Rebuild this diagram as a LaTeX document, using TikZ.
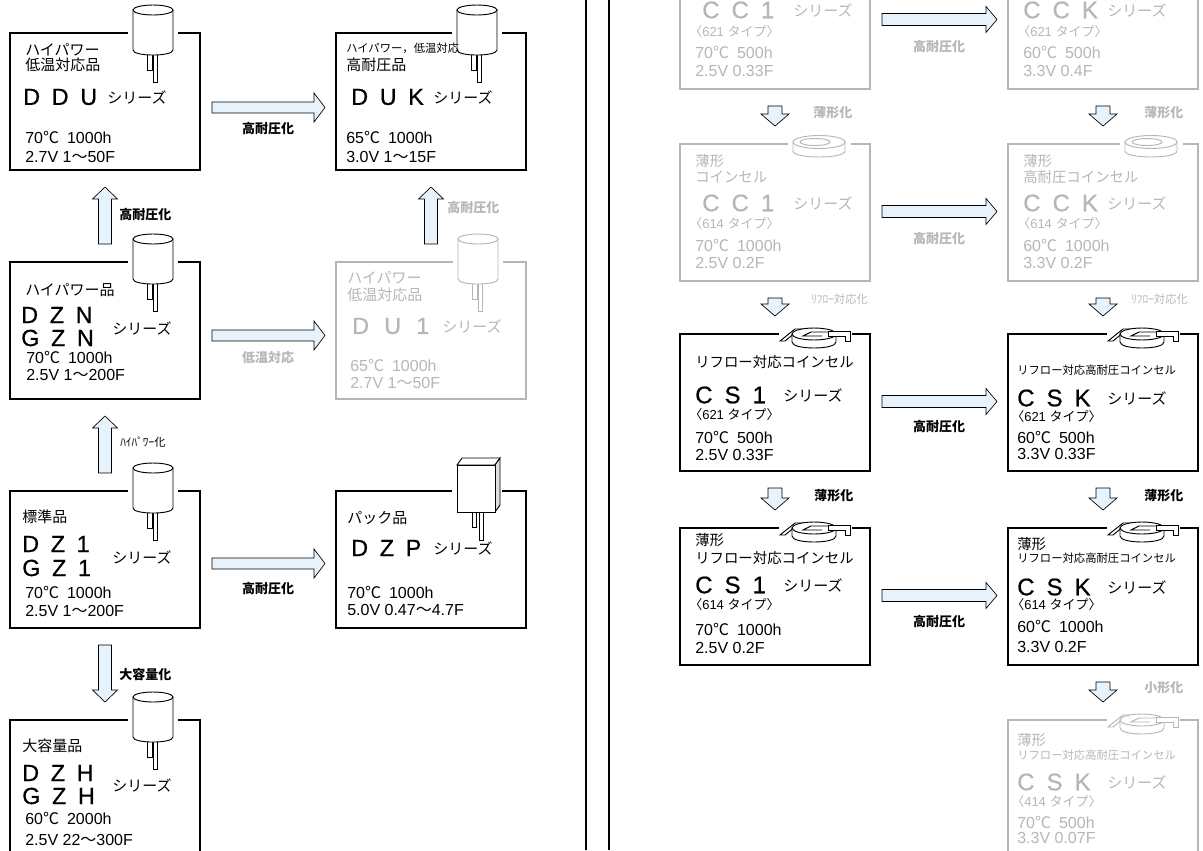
\documentclass[tikz,border=0pt]{standalone}
\usepackage{fontspec}
\setmainfont{Liberation Sans}
\newfontfamily\jp{Noto Sans CJK JP}
\newfontfamily\heavysf[FakeBold=0.7]{Liberation Sans}
\usetikzlibrary{calc}
\definecolor{faded}{RGB}{182,182,182}
\definecolor{arrowblue}{RGB}{230,243,253}
\tikzset{
  panel/.style={draw=black, line width=1.5pt, minimum width=142.5pt, minimum height=102.75pt, inner sep=0pt, anchor=north west},
  panel-faded/.style={panel, draw=faded},
  line-jp/.style={anchor=west, inner sep=0pt, font=\jp\fontsize{11.25pt}{13pt}\selectfont},
  line-jp-r/.style={line-jp, font=\jp\fontsize{10.8pt}{12pt}\selectfont},
  line-jp-small/.style={line-jp, font=\jp\fontsize{8.5pt}{10pt}\selectfont},
  line-big/.style={anchor=west, inner sep=0pt, font=\heavysf\fontsize{17.5pt}{20pt}\selectfont},
  line-big-r/.style={line-big, font=\heavysf\fontsize{18pt}{20pt}\selectfont},
  line-num/.style={anchor=west, inner sep=0pt, font=\fontsize{12pt}{14pt}\selectfont},
  line-type/.style={anchor=west, inner sep=0pt, font=\fontsize{9.75pt}{11pt}\selectfont},
  arrow-label/.style={inner sep=0pt, font=\jp\bfseries\fontsize{9.75pt}{11pt}\selectfont},
  arrow-label-half/.style={arrow-label, font=\jp\fontsize{8.5pt}{10pt}\selectfont},
  faded-text/.style={every node/.append style={text=faded}},
  fatarrow/.style={draw=black, line width=0.5pt, fill=arrowblue, line join=miter}
}
\newcommand{\degC}{{\jp ℃}}
\newcommand{\tld}{{\jp ～}}
\newcommand{\trio}[4][0.5em]{#2\hspace{#1}#3\hspace{#1}#4}
% radial capacitor sitting in the top edge of a panel
\newcommand{\canicon}[2]{%
  \begin{scope}[shift={(#1)}, color=#2, line width=0.7pt]
    \fill[white] (-25,-4) rectangle (25,4);
    \filldraw[fill=white] (-6,20) rectangle (-1,38);
    \filldraw[fill=white] (0,20) rectangle (4,50);
    \filldraw[fill=white] (-20,-22) -- (-20,18) .. controls (-20,24.7) and (20,24.7) .. (20,18) -- (20,-22) -- cycle;
    \filldraw[fill=white] (0,-22) ellipse [x radius=20, y radius=5];
  \end{scope}}
% pack module
\newcommand{\packicon}[1]{%
  \begin{scope}[shift={(#1)}, line width=0.7pt]
    \fill[white] (-24,-4) rectangle (26,4);
    \filldraw[fill=white] (-4,20) rectangle (0,37);
    \filldraw[fill=white] (3,20) rectangle (7,50);
    \filldraw[fill=white] (-19,-25) -- (-14,-32) -- (24,-32) -- (19,-25) -- cycle;
    \filldraw[fill=gray!25] (19,-25) -- (24,-32) -- (24,15) -- (19,22) -- cycle;
    \filldraw[fill=white] (-19,-25) rectangle (19,22);
  \end{scope}}
% flat coin cell
\newcommand{\coinicon}[2]{%
  \begin{scope}[shift={(#1)}, color=#2, line width=0.7pt]
    \fill[white] (-31,-4) rectangle (32,4);
    \filldraw[fill=white] (-26,-1) -- (-26,8) .. controls (-26,16) and (26,16) .. (26,8) -- (26,-1) -- cycle;
    \filldraw[fill=white] (0,-1) ellipse [x radius=26, y radius=6.5];
    \draw (-4,-1) ellipse [x radius=15, y radius=3.5];
  \end{scope}}
% coin cell with reflow tabs
\newcommand{\reflowicon}[2]{%
  \begin{scope}[shift={(#1)}, color=#2, line width=0.7pt]
    \fill[white] (-35,-4) rectangle (38,4);
    \filldraw[fill=white] (-34,8) -- (-19,-4) -- (-9,-4) -- (-11,-1) -- (-18,-1) -- (-29,8) -- cycle;
    \filldraw[fill=white] (-22,1) -- (-22,9) .. controls (-22,17) and (22,17) .. (22,9) -- (22,1) -- cycle;
    \filldraw[fill=white] (0,1) ellipse [x radius=22, y radius=6];
    \draw (16,-1) -- (-3,-1) -- (-11,3) -- (8,3);
    \filldraw[fill=white] (14,-2) -- (36,-2) -- (36,8) -- (31,8) -- (31,3) -- (14,3) -- cycle;
  \end{scope}}
% block arrows between panels
\newcommand{\fatright}[5]{%
  \draw[fatarrow] ($(#1.east)+(11,#3-#4)$) -- ($(#2.west)+(-21,#3-#4)$)
    -- ($(#2.west)+(-21,#3-#5)$) -- ($(#2.west)+(-10,#3)$)
    -- ($(#2.west)+(-21,#3+#5)$) -- ($(#2.west)+(-21,#3+#4)$)
    -- ($(#1.east)+(11,#3+#4)$) -- cycle;}
\newcommand{\fatup}[5]{%
  \draw[fatarrow] ($(#1.north)+(-#3,-17)$) -- ($(#2.south)+(-#3,16+#5)$)
    -- ($(#2.south)+(-#4,16+#5)$) -- ($(#2.south)+(0,16)$)
    -- ($(#2.south)+(#4,16+#5)$) -- ($(#2.south)+(#3,16+#5)$)
    -- ($(#1.north)+(#3,-17)$) -- cycle;}
\newcommand{\fatdown}[5]{%
  \draw[fatarrow] ($(#1.south)+(-#3,16)$) -- ($(#2.north)+(-#3,-17-#5)$)
    -- ($(#2.north)+(-#4,-17-#5)$) -- ($(#2.north)+(0,-17)$)
    -- ($(#2.north)+(#4,-17-#5)$) -- ($(#2.north)+(#3,-17-#5)$)
    -- ($(#1.south)+(#3,16)$) -- cycle;}

\begin{document}
\begin{tikzpicture}[x=0.75pt, y=-0.75pt]
  \useasboundingbox (0,0) rectangle (1203,850);
  \clip (0,0) rectangle (1203,850);

  % dividers
  \draw[line width=1.5pt] (586,0) -- (586,850);
  \draw[line width=1.5pt] (609,0) -- (609,850);

  % ===== left half: radial types =====
  % DDU
  \node[panel] (ddu) at (9,32) {};
  \coordinate (ddu-icon) at ($(ddu.north west)+(144,0)$);
  \canicon{ddu-icon}{black}
  \node[line-jp] (ddu-t1) at ($(ddu.north west)+(16,18)$) {ハイパワー};
  \node[line-jp] (ddu-t2) at ($(ddu.north west)+(16,33)$) {低温対応品};
  \node[line-big] (ddu-nm) at ($(ddu.north west)+(14,65)$) {\trio{D}{D}{U}};
  \node[line-jp] (ddu-sr) at ($(ddu.north west)+(98,65)$) {シリーズ};
  \node[line-num] (ddu-s1) at ($(ddu.north west)+(16,105)$) {70\degC\hspace{0.5em}1000h};
  \node[line-num] (ddu-s2) at ($(ddu.north west)+(16,125)$) {2.7V 1\tld 50F};

  % DUK
  \node[panel] (duk) at (335,32) {};
  \coordinate (duk-icon) at ($(duk.north west)+(142,0)$);
  \canicon{duk-icon}{black}
  \node[line-jp-small] (duk-t1) at ($(duk.north west)+(11,16)$) {ハイパワー，低温対応};
  \node[line-jp] (duk-t2) at ($(duk.north west)+(11,33)$) {高耐圧品};
  \node[line-big] (duk-nm) at ($(duk.north west)+(16,65)$) {\trio{D}{U}{K}};
  \node[line-jp] (duk-sr) at ($(duk.north west)+(98,65)$) {シリーズ};
  \node[line-num] (duk-s1) at ($(duk.north west)+(11,105)$) {65\degC\hspace{0.5em}1000h};
  \node[line-num] (duk-s2) at ($(duk.north west)+(11,125)$) {3.0V 1\tld 15F};

  % DZN / GZN
  \node[panel] (dzn) at (9,261) {};
  \coordinate (dzn-icon) at ($(dzn.north west)+(144,0)$);
  \canicon{dzn-icon}{black}
  \node[line-jp] (dzn-t1) at ($(dzn.north west)+(16,29)$) {ハイパワー品};
  \node[line-big] (dzn-n1) at ($(dzn.north west)+(12,54)$) {\trio{D}{Z}{N}};
  \node[line-big] (dzn-n2) at ($(dzn.north west)+(12,77)$) {\trio{G}{Z}{N}};
  \node[line-jp] (dzn-sr) at ($(dzn.north west)+(103,67)$) {シリーズ};
  \node[line-num] (dzn-s1) at ($(dzn.north west)+(17,96)$) {70\degC\hspace{0.5em}1000h};
  \node[line-num] (dzn-s2) at ($(dzn.north west)+(17,114)$) {2.5V 1\tld 200F};

  % DU1 (faded)
  \node[panel-faded] (du1) at (335,261) {};
  \coordinate (du1-icon) at ($(du1.north west)+(143,0)$);
  \canicon{du1-icon}{faded}
  \begin{scope}[faded-text]
    \node[line-jp] (du1-t1) at ($(du1.north west)+(12,17)$) {ハイパワー};
    \node[line-jp] (du1-t2) at ($(du1.north west)+(12,34)$) {低温対応品};
    \node[line-big] (du1-nm) at ($(du1.north west)+(17,65)$) {\trio[0.65em]{D}{U}{1}};
    \node[line-jp] (du1-sr) at ($(du1.north west)+(107,65)$) {シリーズ};
    \node[line-num] (du1-s1) at ($(du1.north west)+(15,104)$) {65\degC\hspace{0.5em}1000h};
    \node[line-num] (du1-s2) at ($(du1.north west)+(15,122)$) {2.7V 1\tld 50F};
  \end{scope}

  % DZ1 / GZ1
  \node[panel] (dz1) at (9,490) {};
  \coordinate (dz1-icon) at ($(dz1.north west)+(144,0)$);
  \canicon{dz1-icon}{black}
  \node[line-jp] (dz1-t1) at ($(dz1.north west)+(13,27)$) {標準品};
  \node[line-big] (dz1-n1) at ($(dz1.north west)+(13,54)$) {\trio{D}{Z}{1}};
  \node[line-big] (dz1-n2) at ($(dz1.north west)+(13,78)$) {\trio{G}{Z}{1}};
  \node[line-jp] (dz1-sr) at ($(dz1.north west)+(103,67)$) {シリーズ};
  \node[line-num] (dz1-s1) at ($(dz1.north west)+(16,102)$) {70\degC\hspace{0.5em}1000h};
  \node[line-num] (dz1-s2) at ($(dz1.north west)+(16,121)$) {2.5V 1\tld 200F};

  % DZP
  \node[panel] (dzp) at (335,490) {};
  \coordinate (dzp-icon) at ($(dzp.north west)+(141,0)$);
  \packicon{dzp-icon}
  \node[line-jp] (dzp-t1) at ($(dzp.north west)+(12,28)$) {パック品};
  \node[line-big] (dzp-nm) at ($(dzp.north west)+(16,58)$) {\trio{D}{Z}{P}};
  \node[line-jp] (dzp-sr) at ($(dzp.north west)+(98,58)$) {シリーズ};
  \node[line-num] (dzp-s1) at ($(dzp.north west)+(12,102)$) {70\degC\hspace{0.5em}1000h};
  \node[line-num] (dzp-s2) at ($(dzp.north west)+(12,120)$) {5.0V 0.47\tld 4.7F};

  % DZH / GZH
  \node[panel] (dzh) at (9,719) {};
  \coordinate (dzh-icon) at ($(dzh.north west)+(144,0)$);
  \canicon{dzh-icon}{black}
  \node[line-jp] (dzh-t1) at ($(dzh.north west)+(13,27)$) {大容量品};
  \node[line-big] (dzh-n1) at ($(dzh.north west)+(13,54)$) {\trio{D}{Z}{H}};
  \node[line-big] (dzh-n2) at ($(dzh.north west)+(13,77)$) {\trio{G}{Z}{H}};
  \node[line-jp] (dzh-sr) at ($(dzh.north west)+(103,66)$) {シリーズ};
  \node[line-num] (dzh-s1) at ($(dzh.north west)+(16,99)$) {60\degC\hspace{0.5em}2000h};
  \node[line-num] (dzh-s2) at ($(dzh.north west)+(16,121)$) {2.5V 22\tld 300F};

  % arrows, left half
  \fatright{ddu}{duk}{6}{5.5}{14.5}
  \fatright{dzn}{du1}{5}{5.5}{14.5}
  \fatright{dz1}{dzp}{4}{5.5}{14.5}
  \fatup{dzn}{ddu}{6.5}{12.5}{12}
  \fatup{du1}{duk}{6.5}{12.5}{12}
  \fatup{dz1}{dzn}{6.5}{12.5}{12}
  \fatdown{dz1}{dzh}{6.5}{12.5}{12}
  \node[arrow-label] (lb-ddu-duk) at ($(ddu.east)!0.5!(duk.west)+(0,27)$) {高耐圧化};
  \node[arrow-label, text=faded] (lb-dzn-du1) at ($(dzn.east)!0.5!(du1.west)+(0,27)$) {低温対応};
  \node[arrow-label] (lb-dz1-dzp) at ($(dz1.east)!0.5!(dzp.west)+(0,29)$) {高耐圧化};
  \node[arrow-label, anchor=west] (lb-dzn-ddu) at ($(dzn.north)!0.5!(ddu.south)+(14,-1)$) {高耐圧化};
  \node[arrow-label, anchor=west, text=faded] (lb-du1-duk) at ($(du1.north)!0.5!(duk.south)+(16,-8)$) {高耐圧化};
  \node[arrow-label-half, anchor=west] (lb-dz1-dzn) at ($(dz1.north)!0.5!(dzn.south)+(15,-3)$) {ﾊｲﾊﾟﾜｰ化};
  \node[arrow-label, anchor=west] (lb-dz1-dzh) at ($(dz1.south)!0.5!(dzh.north)+(14,1)$) {大容量化};

  % ===== right half: coin cells =====
  % CC1 621 (faded)
  \node[panel-faded] (cc1-621) at (679,-49) {};
  \begin{scope}[faded-text]
    \node[line-big-r] (cc1-621-nm) at ($(cc1-621.north west)+(23,59)$) {\trio{C}{C}{1}};
    \node[line-jp] (cc1-621-sr) at ($(cc1-621.north west)+(114,59)$) {シリーズ};
    \node[line-type] (cc1-621-ty) at ($(cc1-621.north west)+(10,81)$) {{\jp 〈}621 {\jp タイプ〉}};
    \node[line-num] (cc1-621-s1) at ($(cc1-621.north west)+(16,101)$) {70\degC\hspace{0.5em}500h};
    \node[line-num] (cc1-621-s2) at ($(cc1-621.north west)+(16,120)$) {2.5V 0.33F};
  \end{scope}

  % CCK 621 (faded)
  \node[panel-faded] (cck-621) at (1007,-49) {};
  \begin{scope}[faded-text]
    \node[line-big-r] (cck-621-nm) at ($(cck-621.north west)+(16,59)$) {\trio{C}{C}{K}};
    \node[line-jp] (cck-621-sr) at ($(cck-621.north west)+(100,59)$) {シリーズ};
    \node[line-type] (cck-621-ty) at ($(cck-621.north west)+(10,81)$) {{\jp 〈}621 {\jp タイプ〉}};
    \node[line-num] (cck-621-s1) at ($(cck-621.north west)+(16,101)$) {60\degC\hspace{0.5em}500h};
    \node[line-num] (cck-621-s2) at ($(cck-621.north west)+(16,120)$) {3.3V 0.4F};
  \end{scope}

  % CC1 614 (faded)
  \node[panel-faded] (cc1-614) at (679,143) {};
  \coordinate (cc1-614-icon) at ($(cc1-614.north west)+(140,0)$);
  \coinicon{cc1-614-icon}{faded}
  \begin{scope}[faded-text]
    \node[line-jp-r] (cc1-614-t1) at ($(cc1-614.north west)+(16,18)$) {薄形};
    \node[line-jp-r] (cc1-614-t2) at ($(cc1-614.north west)+(16,34)$) {コインセル};
    \node[line-big-r] (cc1-614-nm) at ($(cc1-614.north west)+(23,60)$) {\trio{C}{C}{1}};
    \node[line-jp] (cc1-614-sr) at ($(cc1-614.north west)+(114,60)$) {シリーズ};
    \node[line-type] (cc1-614-ty) at ($(cc1-614.north west)+(10,81)$) {{\jp 〈}614 {\jp タイプ〉}};
    \node[line-num] (cc1-614-s1) at ($(cc1-614.north west)+(16,102)$) {70\degC\hspace{0.5em}1000h};
    \node[line-num] (cc1-614-s2) at ($(cc1-614.north west)+(16,120)$) {2.5V 0.2F};
  \end{scope}

  % CCK 614 (faded)
  \node[panel-faded] (cck-614) at (1007,143) {};
  \coordinate (cck-614-icon) at ($(cck-614.north west)+(144,0)$);
  \coinicon{cck-614-icon}{faded}
  \begin{scope}[faded-text]
    \node[line-jp-r] (cck-614-t1) at ($(cck-614.north west)+(16,18)$) {薄形};
    \node[line-jp-r] (cck-614-t2) at ($(cck-614.north west)+(16,34)$) {高耐圧コインセル};
    \node[line-big-r] (cck-614-nm) at ($(cck-614.north west)+(16,60)$) {\trio{C}{C}{K}};
    \node[line-jp] (cck-614-sr) at ($(cck-614.north west)+(100,60)$) {シリーズ};
    \node[line-type] (cck-614-ty) at ($(cck-614.north west)+(10,81)$) {{\jp 〈}614 {\jp タイプ〉}};
    \node[line-num] (cck-614-s1) at ($(cck-614.north west)+(16,102)$) {60\degC\hspace{0.5em}1000h};
    \node[line-num] (cck-614-s2) at ($(cck-614.north west)+(16,120)$) {3.3V 0.2F};
  \end{scope}

  % CS1 621
  \node[panel] (cs1-621) at (679,333) {};
  \coordinate (cs1-621-icon) at ($(cs1-621.north west)+(135,0)$);
  \reflowicon{cs1-621-icon}{black}
  \node[line-jp-r] (cs1-621-t1) at ($(cs1-621.north west)+(16,29)$) {リフロー対応コインセル};
  \node[line-big-r] (cs1-621-nm) at ($(cs1-621.north west)+(16,62)$) {\trio{C}{S}{1}};
  \node[line-jp] (cs1-621-sr) at ($(cs1-621.north west)+(104,62)$) {シリーズ};
  \node[line-type] (cs1-621-ty) at ($(cs1-621.north west)+(10,82)$) {{\jp 〈}621 {\jp タイプ〉}};
  \node[line-num] (cs1-621-s1) at ($(cs1-621.north west)+(16,104)$) {70\degC\hspace{0.5em}500h};
  \node[line-num] (cs1-621-s2) at ($(cs1-621.north west)+(16,122)$) {2.5V 0.33F};

  % CSK 621
  \node[panel] (csk-621) at (1007,333) {};
  \coordinate (csk-621-icon) at ($(csk-621.north west)+(135,0)$);
  \reflowicon{csk-621-icon}{black}
  \node[line-jp-small] (csk-621-t1) at ($(csk-621.north west)+(10,37)$) {リフロー対応高耐圧コインセル};
  \node[line-big-r] (csk-621-nm) at ($(csk-621.north west)+(10,65)$) {\trio{C}{S}{K}};
  \node[line-jp] (csk-621-sr) at ($(csk-621.north west)+(100,65)$) {シリーズ};
  \node[line-type] (csk-621-ty) at ($(csk-621.north west)+(4,84)$) {{\jp 〈}621 {\jp タイプ〉}};
  \node[line-num] (csk-621-s1) at ($(csk-621.north west)+(10,104)$) {60\degC\hspace{0.5em}500h};
  \node[line-num] (csk-621-s2) at ($(csk-621.north west)+(10,121)$) {3.3V 0.33F};

  % CS1 614
  \node[panel] (cs1-614) at (679,527) {};
  \coordinate (cs1-614-icon) at ($(cs1-614.north west)+(135,0)$);
  \reflowicon{cs1-614-icon}{black}
  \node[line-jp-r] (cs1-614-t1) at ($(cs1-614.north west)+(16,13)$) {薄形};
  \node[line-jp-r] (cs1-614-t2) at ($(cs1-614.north west)+(16,31)$) {リフロー対応コインセル};
  \node[line-big-r] (cs1-614-nm) at ($(cs1-614.north west)+(16,58)$) {\trio{C}{S}{1}};
  \node[line-jp] (cs1-614-sr) at ($(cs1-614.north west)+(104,58)$) {シリーズ};
  \node[line-type] (cs1-614-ty) at ($(cs1-614.north west)+(10,78)$) {{\jp 〈}614 {\jp タイプ〉}};
  \node[line-num] (cs1-614-s1) at ($(cs1-614.north west)+(16,102)$) {70\degC\hspace{0.5em}1000h};
  \node[line-num] (cs1-614-s2) at ($(cs1-614.north west)+(16,121)$) {2.5V 0.2F};

  % CSK 614
  \node[panel] (csk-614) at (1007,527) {};
  \coordinate (csk-614-icon) at ($(csk-614.north west)+(135,0)$);
  \reflowicon{csk-614-icon}{black}
  \node[line-jp-r] (csk-614-t1) at ($(csk-614.north west)+(10,17)$) {薄形};
  \node[line-jp-small] (csk-614-t2) at ($(csk-614.north west)+(10,31)$) {リフロー対応高耐圧コインセル};
  \node[line-big-r] (csk-614-nm) at ($(csk-614.north west)+(10,60)$) {\trio{C}{S}{K}};
  \node[line-jp] (csk-614-sr) at ($(csk-614.north west)+(100,60)$) {シリーズ};
  \node[line-type] (csk-614-ty) at ($(csk-614.north west)+(4,78)$) {{\jp 〈}614 {\jp タイプ〉}};
  \node[line-num] (csk-614-s1) at ($(csk-614.north west)+(10,99)$) {60\degC\hspace{0.5em}1000h};
  \node[line-num] (csk-614-s2) at ($(csk-614.north west)+(10,120)$) {3.3V 0.2F};

  % CSK 414 (faded)
  \node[panel-faded] (csk-414) at (1007,719) {};
  \coordinate (csk-414-icon) at ($(csk-414.north west)+(135,0)$);
  \reflowicon{csk-414-icon}{faded}
  \begin{scope}[faded-text]
    \node[line-jp-r] (csk-414-t1) at ($(csk-414.north west)+(10,21)$) {薄形};
    \node[line-jp-small] (csk-414-t2) at ($(csk-414.north west)+(10,36)$) {リフロー対応高耐圧コインセル};
    \node[line-big-r] (csk-414-nm) at ($(csk-414.north west)+(10,63)$) {\trio{C}{S}{K}};
    \node[line-jp] (csk-414-sr) at ($(csk-414.north west)+(100,63)$) {シリーズ};
    \node[line-type] (csk-414-ty) at ($(csk-414.north west)+(4,83)$) {{\jp 〈}414 {\jp タイプ〉}};
    \node[line-num] (csk-414-s1) at ($(csk-414.north west)+(10,103)$) {70\degC\hspace{0.5em}500h};
    \node[line-num] (csk-414-s2) at ($(csk-414.north west)+(10,119)$) {3.3V 0.07F};
  \end{scope}

  % arrows, right half
  \fatright{cc1-621}{cck-621}{-1}{6}{13}
  \fatright{cc1-614}{cck-614}{-1}{6}{13}
  \fatright{cs1-621}{csk-621}{-1}{6}{13}
  \fatright{cs1-614}{csk-614}{-1}{6}{13}
  \fatdown{cc1-621}{cc1-614}{7}{14}{12}
  \fatdown{cc1-614}{cs1-621}{7}{14}{12}
  \fatdown{cs1-621}{cs1-614}{7}{14}{12}
  \fatdown{cck-621}{cck-614}{7}{14}{12}
  \fatdown{cck-614}{csk-621}{7}{14}{12}
  \fatdown{csk-621}{csk-614}{7}{14}{12}
  \fatdown{csk-614}{csk-414}{7}{14}{12}
  \node[arrow-label, text=faded] (lb-cc1-cck-621) at ($(cc1-621.east)!0.5!(cck-621.west)+(0,26)$) {高耐圧化};
  \node[arrow-label, text=faded] (lb-cc1-cck-614) at ($(cc1-614.east)!0.5!(cck-614.west)+(0,26)$) {高耐圧化};
  \node[arrow-label] (lb-cs1-csk-621) at ($(cs1-621.east)!0.5!(csk-621.west)+(0,24)$) {高耐圧化};
  \node[arrow-label] (lb-cs1-csk-614) at ($(cs1-614.east)!0.5!(csk-614.west)+(0,25)$) {高耐圧化};
  \node[arrow-label, anchor=west, text=faded] (lb-cc1-thin) at ($(cc1-621.south)!0.5!(cc1-614.north)+(38,-4)$) {薄形化};
  \node[arrow-label-half, anchor=west, text=faded] (lb-cc1-reflow) at ($(cc1-614.south)!0.5!(cs1-621.north)+(36,-8)$) {ﾘﾌﾛｰ対応化};
  \node[arrow-label, anchor=west] (lb-cs1-thin) at ($(cs1-621.south)!0.5!(cs1-614.north)+(39,-4)$) {薄形化};
  \node[arrow-label, anchor=west, text=faded] (lb-cck-thin) at ($(cck-621.south)!0.5!(cck-614.north)+(41,-4)$) {薄形化};
  \node[arrow-label-half, anchor=west, text=faded] (lb-cck-reflow) at ($(cck-614.south)!0.5!(csk-621.north)+(28,-8)$) {ﾘﾌﾛｰ対応化};
  \node[arrow-label, anchor=west] (lb-csk-thin) at ($(csk-621.south)!0.5!(csk-614.north)+(41,-4)$) {薄形化};
  \node[arrow-label, anchor=west, text=faded] (lb-csk-small) at ($(csk-614.south)!0.5!(csk-414.north)+(41,-5)$) {小形化};
\end{tikzpicture}
\end{document}
